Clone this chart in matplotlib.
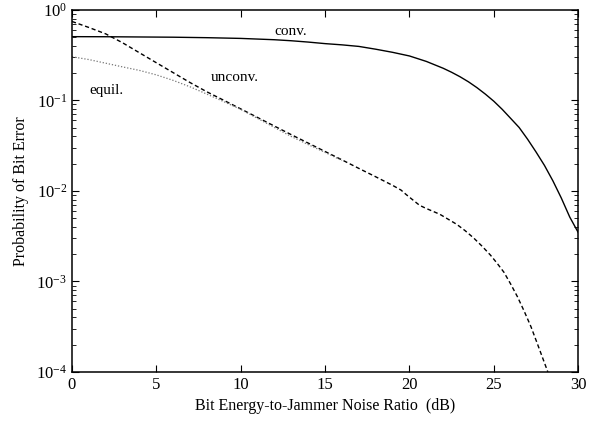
import matplotlib
matplotlib.use('Agg')
import matplotlib.pyplot as plt
from matplotlib.ticker import LogLocator, MultipleLocator, NullFormatter

# curves (x in dB, y = probability of bit error)
conv_x = [0, 2, 4, 6, 8, 10, 12, 13, 14, 15, 16, 17, 18, 19, 20, 21, 22, 22.5, 23, 23.5, 24,
          24.5, 25, 25.5, 26, 26.5, 27, 27.5, 28, 28.5, 29, 29.5, 30]
conv_y = [0.505, 0.504, 0.501, 0.498, 0.492, 0.483, 0.467, 0.455, 0.440, 0.423, 0.410, 0.394,
          0.367, 0.339, 0.309, 0.269, 0.226, 0.204, 0.182, 0.160, 0.138, 0.117, 0.0977, 0.0794,
          0.0631, 0.0501, 0.0372, 0.0269, 0.0191, 0.0129, 0.00832, 0.00513, 0.00347]

unconv_x = [0, 1, 2, 3, 4, 5, 6, 7, 8, 9, 10, 11, 12, 13, 14, 15, 16, 17, 18, 19, 19.5, 19.8,
            20.2, 20.6, 21, 21.8, 22.8, 23.3, 23.8, 24.3, 24.8, 25.2, 25.6, 26, 26.4, 26.8,
            27.2, 27.6, 28, 28.2]
unconv_y = [0.743, 0.638, 0.542, 0.432, 0.335, 0.260, 0.202, 0.157, 0.124, 0.100, 0.0804,
            0.0646, 0.0519, 0.0417, 0.0337, 0.0272, 0.0220, 0.0177, 0.0143, 0.0115, 0.0102,
            0.00912, 0.00794, 0.00692, 0.00638, 0.00551, 0.00427, 0.00363, 0.00302, 0.00245,
            0.00195, 0.00158, 0.00126, 0.000933, 0.000676, 0.000468, 0.000316, 0.000200,
            0.000126, 0.0001]

equil_x = [0, 1, 2, 3, 4, 5, 6, 7, 8, 9, 10, 11, 12, 13, 13.5, 14, 15, 16]
equil_y = [0.303, 0.282, 0.257, 0.234, 0.214, 0.191, 0.166, 0.141, 0.117, 0.0966, 0.0794,
           0.0631, 0.0501, 0.0398, 0.036, 0.0324, 0.0266, 0.0216]

labels = ['conv.', 'unconv.', 'equil.']
label_pos = [(12.0, 0.57), (8.2, 0.178), (1.05, 0.127)]

plt.rcParams['font.family'] = 'Liberation Serif'
plt.rcParams['mathtext.fontset'] = 'stix'

fig = plt.figure(figsize=(5.9, 4.26), dpi=100)
ax = fig.add_axes([0.122, 0.127, 0.858, 0.85])

ax.semilogy(conv_x, conv_y, color='black', lw=1.0)
ax.semilogy(unconv_x, unconv_y, color='black', lw=1.0, linestyle=(0, (3, 2)))
ax.semilogy(equil_x, equil_y, color='#777777', lw=0.9, linestyle=(0, (1, 1.5)))

for (t, (x, y)) in zip(labels, label_pos):
    ax.text(x, y, t, fontsize=11, ha='left', va='center')

ax.set_xlim(0, 30)
ax.set_ylim(1e-4, 1)
ax.xaxis.set_major_locator(MultipleLocator(5))
ax.yaxis.set_major_locator(LogLocator(base=10, numticks=10))
ax.yaxis.set_minor_locator(LogLocator(base=10, subs=range(2, 10), numticks=10))
ax.yaxis.set_minor_formatter(NullFormatter())
ax.tick_params(which='both', direction='in', top=True, right=True, labelsize=12)
ax.tick_params(which='major', length=5)
ax.tick_params(which='minor', length=3)
for s in ax.spines.values():
    s.set_linewidth(1.1)

ax.set_xlabel('Bit Energy-to-Jammer Noise Ratio  (dB)', fontsize=11.5, labelpad=4)
ax.set_ylabel('Probability of Bit Error', fontsize=11.5, labelpad=5)

fig.savefig('out.png', dpi=100)
